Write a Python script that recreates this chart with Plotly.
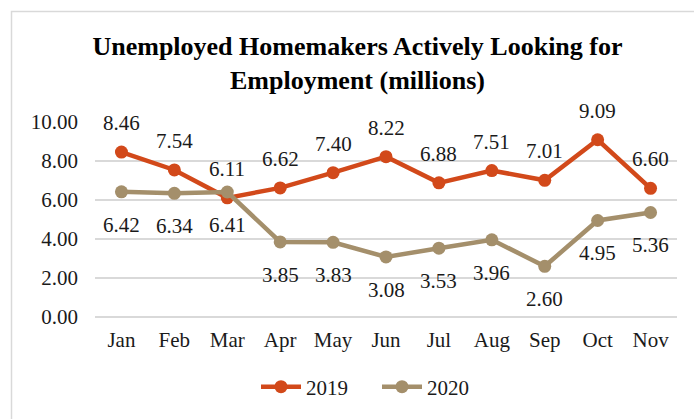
import plotly.graph_objects as go

months = ["Jan", "Feb", "Mar", "Apr", "May", "Jun", "Jul", "Aug", "Sep", "Oct", "Nov"]
values_2019 = [8.46, 7.54, 6.11, 6.62, 7.40, 8.22, 6.88, 7.51, 7.01, 9.09, 6.60]
values_2020 = [6.42, 6.34, 6.41, 3.85, 3.83, 3.08, 3.53, 3.96, 2.60, 4.95, 5.36]
y_ticks = [0, 2, 4, 6, 8, 10]

RED = "#D2491A"
TAN = "#A48F6B"
FONT = "Liberation Serif, Times New Roman, serif"
TXT = "#1a1a1a"
W, H = 694, 419
ML, MR, MT, MB = 95, 17, 122, 102

fig = go.Figure()
fig.add_trace(go.Scatter(
    x=months, y=values_2019, name="2019", mode="lines+markers",
    line=dict(color=RED, width=4.5), marker=dict(color=RED, size=13),
))
fig.add_trace(go.Scatter(
    x=months, y=values_2020, name="2020", mode="lines+markers",
    line=dict(color=TAN, width=4.5), marker=dict(color=TAN, size=13),
))

annotations = []
for m, v in zip(months, values_2019):
    annotations.append(dict(x=m, y=v, xref="x", yref="y", text=f"{v:.2f}",
                            showarrow=False, yshift=29,
                            font=dict(family=FONT, size=21, color=TXT)))
for m, v in zip(months, values_2020):
    annotations.append(dict(x=m, y=v, xref="x", yref="y", text=f"{v:.2f}",
                            showarrow=False, yshift=-33,
                            font=dict(family=FONT, size=21, color=TXT)))

# light outer frame of the chart area
pw = W - ML - MR
ph = H - MT - MB
def px_x(p):
    return (p - ML) / pw
def px_y(p):
    return (H - MB - p) / ph

fig.update_layout(
    width=W, height=H,
    margin=dict(l=ML, r=MR, t=MT, b=MB),
    paper_bgcolor="white", plot_bgcolor="white",
    title=dict(
        text="<b>Unemployed Homemakers Actively Looking for<br>Employment (millions)</b>",
        x=357.5 / W, xref="container", xanchor="center",
        y=1 - 55 / H, yref="container", yanchor="middle",
        font=dict(family=FONT, size=26, color="black"),
    ),
    xaxis=dict(
        type="category", range=[-0.5, 10.5], showgrid=False, showline=False,
        zeroline=False, ticks="", ticklabelstandoff=8,
        tickfont=dict(family=FONT, size=21, color=TXT),
    ),
    yaxis=dict(
        range=[0, 10], tickvals=y_ticks, ticktext=[f"{t:.2f}" for t in y_ticks],
        showgrid=True, gridcolor="#D9D9D9", gridwidth=1.5,
        zeroline=True, zerolinecolor="#D9D9D9", zerolinewidth=1.5,
        showline=False, ticks="", ticklabelstandoff=16,
        tickfont=dict(family=FONT, size=21, color=TXT),
    ),
    legend=dict(
        orientation="h", x=377 / W, xref="container", xanchor="center",
        y=1 - 387 / H, yref="container", yanchor="middle",
        font=dict(family=FONT, size=21, color=TXT),
        itemwidth=40, tracegroupgap=0,
        entrywidth=66, entrywidthmode="pixels",
    ),
    showlegend=True,
    annotations=annotations,
    shapes=[dict(
        type="rect", xref="paper", yref="paper",
        x0=px_x(11.5), x1=px_x(700), y0=px_y(11.5), y1=px_y(430),
        line=dict(color="#D9D9D9", width=1.5), layer="below",
    )],
)

fig.write_html("out.html")
